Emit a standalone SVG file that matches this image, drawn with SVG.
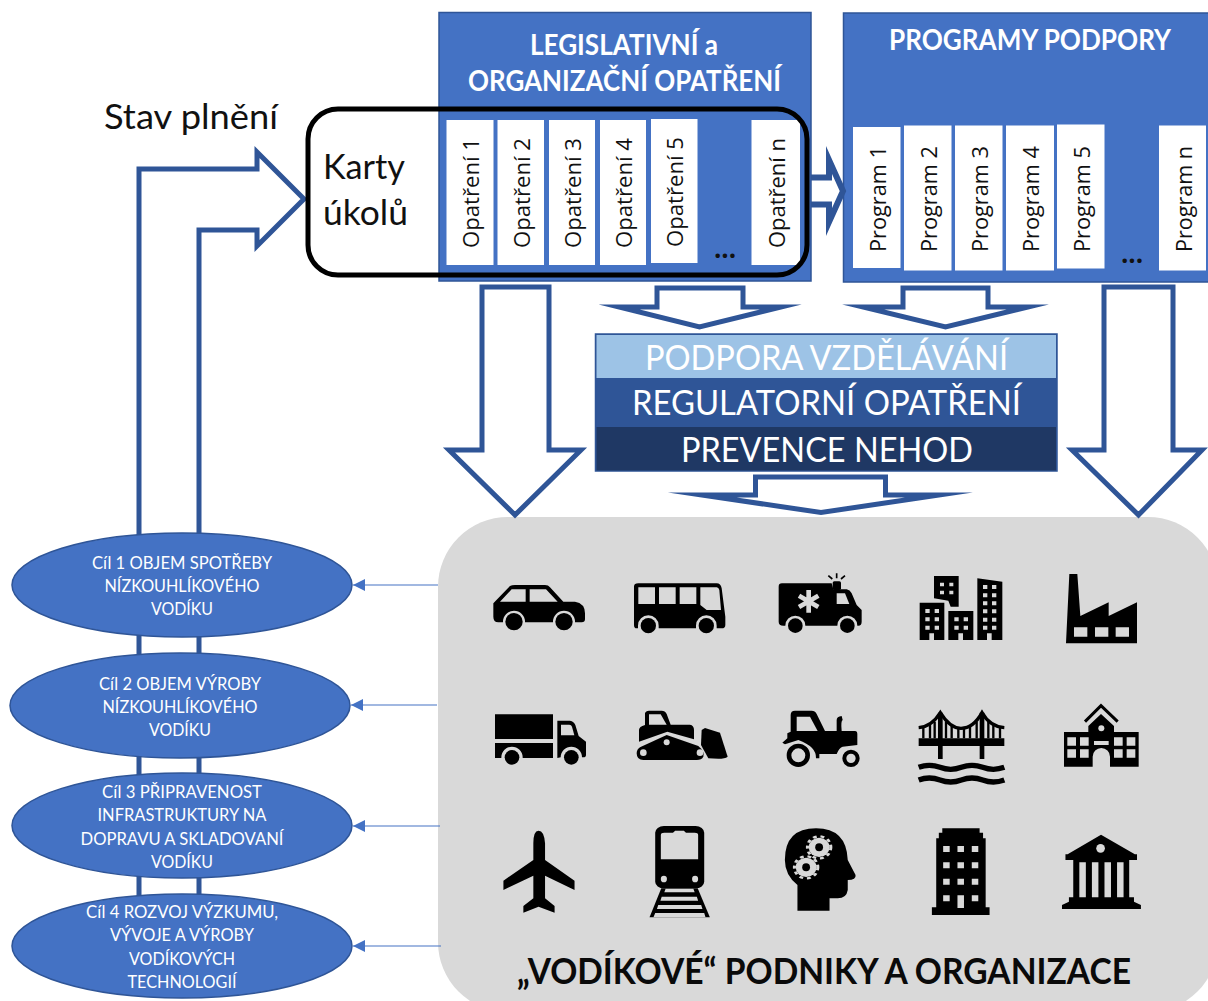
<svg xmlns="http://www.w3.org/2000/svg" width="1208" height="1001" viewBox="0 0 1208 1001">
<style>
text{font-family:"Lato","Liberation Sans",sans-serif;}
.box{fill:#4472C4;stroke:#2F5597;stroke-width:1.5}
.card{fill:#fff}
.rot{font-family:"Open Sans","Noto Sans",sans-serif;font-size:22.5px;fill:#111}
.title{font-weight:700;font-size:28px;fill:#fff;text-anchor:middle}
.band{font-size:35px;fill:#fff;text-anchor:middle}
.ell{fill:#4472C4;stroke:#2F5597;stroke-width:1.5}
.et{font-size:17px;fill:#fff;text-anchor:middle}
.arrow{fill:#fff;stroke:#2F5597;stroke-width:5;stroke-linejoin:miter;stroke-miterlimit:40}
.thin{stroke:#4472C4;stroke-width:1.2;fill:none;marker-end:url(#ah)}
.big{font-size:35px;fill:#111}
.dots{font-family:"Open Sans",sans-serif;font-size:26px;font-weight:700;fill:#111;text-anchor:middle}
.i{fill:#000}
.g{fill:#D9D9D9}
</style>
<defs>
<marker id="ah" markerUnits="userSpaceOnUse" markerWidth="13" markerHeight="13" refX="12" refY="6.500" orient="auto"><path d="M0 0.500L12 6.500L0 12.500Z" fill="#4472C4"/></marker>
</defs>
<rect width="1208" height="1001" fill="#fff"/>

<g id="organizace">
<rect x="438" y="517" width="780" height="495" rx="70" fill="#D9D9D9"/>
<text x="517" y="984" font-weight="700" font-size="36" fill="#0a0a0a" textLength="614" lengthAdjust="spacingAndGlyphs">„VODÍKOVÉ“ PODNIKY A ORGANIZACE</text>
</g>

<g id="programy">
<rect class="box" x="843.500" y="13" width="370" height="269"/>
<text class="title" x="1030" y="50" textLength="282" lengthAdjust="spacingAndGlyphs">PROGRAMY PODPORY</text>
<rect class="card" x="853" y="127" width="47.500" height="141"/>
<rect class="card" x="904" y="125.500" width="47.500" height="145"/>
<rect class="card" x="955" y="125.500" width="47.500" height="145"/>
<rect class="card" x="1006" y="125.500" width="48" height="145"/>
<rect class="card" x="1057" y="124.500" width="47.500" height="144"/>
<rect class="card" x="1159" y="125.500" width="47" height="145"/>
<text class="rot" transform="translate(885.500 252) rotate(-90)" textLength="106" lengthAdjust="spacingAndGlyphs">Program 1</text>
<text class="rot" transform="translate(937 252) rotate(-90)" textLength="106" lengthAdjust="spacingAndGlyphs">Program 2</text>
<text class="rot" transform="translate(988 252) rotate(-90)" textLength="106" lengthAdjust="spacingAndGlyphs">Program 3</text>
<text class="rot" transform="translate(1038.500 252) rotate(-90)" textLength="106" lengthAdjust="spacingAndGlyphs">Program 4</text>
<text class="rot" transform="translate(1090 252) rotate(-90)" textLength="106" lengthAdjust="spacingAndGlyphs">Program 5</text>
<text class="rot" transform="translate(1192 252) rotate(-90)" textLength="106" lengthAdjust="spacingAndGlyphs">Program n</text>
<text class="dots" x="1132" y="263">...</text>
</g>

<g id="connectors">
<path class="arrow" d="M139 905V169H257V152L304 199L257 246V230H199V905"/>
<path class="arrow" style="stroke-width:6" d="M811 177.500H829V160L843 191L829 222V204.500H811"/>
<path class="arrow" d="M482 287H549V450H581L515 515L449 450H482Z"/>
<path class="arrow" d="M1104 287H1173V450H1202L1138.500 515L1072 450H1104Z"/>
<path class="arrow" d="M657 288H743V307H781L699.500 327L619 307H657Z"/>
<path class="arrow" d="M903 288H988V307H1028L945.500 327L863 307H903Z"/>
<path class="arrow" d="M755.500 477H885.500V495H939L821 512.500L702 495H755.500Z"/>
<path class="thin" d="M438 585H353"/>
<path class="thin" d="M437 705H351"/>
<path class="thin" d="M440 826H353"/>
<path class="thin" d="M441 946H353"/>
</g>

<g id="legislativni">
<rect class="box" x="439" y="12.500" width="372" height="268.500"/>
<text class="title" x="624" y="55" textLength="188" lengthAdjust="spacingAndGlyphs">LEGISLATIVNÍ a</text>
<text class="title" x="624.500" y="91" textLength="313" lengthAdjust="spacingAndGlyphs">ORGANIZAČNÍ OPATŘENÍ</text>
<rect class="card" x="446.500" y="120" width="47" height="145"/>
<rect class="card" x="497.500" y="120" width="46.500" height="145"/>
<rect class="card" x="549" y="120" width="46" height="145"/>
<rect class="card" x="600" y="120" width="46" height="145"/>
<rect class="card" x="651" y="119" width="46.500" height="144"/>
<rect class="card" x="751.500" y="120" width="48.500" height="145"/>
<text class="rot" transform="translate(479 248) rotate(-90)" textLength="110" lengthAdjust="spacingAndGlyphs">Opatření 1</text>
<text class="rot" transform="translate(530 248) rotate(-90)" textLength="110" lengthAdjust="spacingAndGlyphs">Opatření 2</text>
<text class="rot" transform="translate(581 248) rotate(-90)" textLength="110" lengthAdjust="spacingAndGlyphs">Opatření 3</text>
<text class="rot" transform="translate(632 248) rotate(-90)" textLength="110" lengthAdjust="spacingAndGlyphs">Opatření 4</text>
<text class="rot" transform="translate(682.500 247) rotate(-90)" textLength="110" lengthAdjust="spacingAndGlyphs">Opatření 5</text>
<text class="rot" transform="translate(785 248) rotate(-90)" textLength="110" lengthAdjust="spacingAndGlyphs">Opatření n</text>
<text class="dots" x="725" y="258">...</text>
</g>

<g id="karty">
<rect x="308" y="109" width="499" height="166" rx="30" fill="none" stroke="#000" stroke-width="5"/>
<text class="big" x="323" y="179" textLength="82" lengthAdjust="spacingAndGlyphs">Karty</text>
<text class="big" x="323" y="225" textLength="85" lengthAdjust="spacingAndGlyphs">úkolů</text>
</g>

<g id="stav">
<text class="big" x="104" y="129" font-size="34" textLength="174" lengthAdjust="spacingAndGlyphs">Stav plnění</text>
</g>

<g id="pasy">
<rect x="595.500" y="334" width="461.500" height="137" fill="#2F5597" stroke="#2F5597" stroke-width="1.5"/>
<rect x="596.500" y="335" width="459.500" height="43" fill="#9DC3E6"/>
<rect x="596.500" y="378" width="459.500" height="49" fill="#2F5597"/>
<rect x="596.500" y="427" width="459.500" height="43.500" fill="#1F3864"/>
<text class="band" x="826.500" y="370" textLength="363" lengthAdjust="spacingAndGlyphs">PODPORA VZDĚLÁVÁNÍ</text>
<text class="band" x="826.500" y="415" textLength="389" lengthAdjust="spacingAndGlyphs">REGULATORNÍ OPATŘENÍ</text>
<text class="band" x="827" y="462" textLength="292" lengthAdjust="spacingAndGlyphs">PREVENCE NEHOD</text>
</g>

<g id="cil1">
<ellipse class="ell" cx="182" cy="585" rx="170" ry="52"/>
<text class="et" x="182" y="569" textLength="180" lengthAdjust="spacingAndGlyphs">Cíl 1 OBJEM SPOTŘEBY</text>
<text class="et" x="182" y="592" textLength="155" lengthAdjust="spacingAndGlyphs">NÍZKOUHLÍKOVÉHO</text>
<text class="et" x="182" y="615" textLength="62" lengthAdjust="spacingAndGlyphs">VODÍKU</text>
</g>
<g id="cil2">
<ellipse class="ell" cx="180" cy="705.500" rx="170" ry="52.500"/>
<text class="et" x="180" y="690" textLength="162" lengthAdjust="spacingAndGlyphs">Cíl 2 OBJEM VÝROBY</text>
<text class="et" x="180" y="713" textLength="155" lengthAdjust="spacingAndGlyphs">NÍZKOUHLÍKOVÉHO</text>
<text class="et" x="180" y="736" textLength="62" lengthAdjust="spacingAndGlyphs">VODÍKU</text>
</g>
<g id="cil3">
<ellipse class="ell" cx="182" cy="825.500" rx="170" ry="52.500"/>
<text class="et" x="182" y="798" textLength="160" lengthAdjust="spacingAndGlyphs">Cíl 3 PŘIPRAVENOST</text>
<text class="et" x="182" y="821" textLength="169" lengthAdjust="spacingAndGlyphs">INFRASTRUKTURY NA</text>
<text class="et" x="182" y="845" textLength="203" lengthAdjust="spacingAndGlyphs">DOPRAVU A SKLADOVANÍ</text>
<text class="et" x="182" y="868" textLength="62" lengthAdjust="spacingAndGlyphs">VODÍKU</text>
</g>
<g id="cil4">
<ellipse class="ell" cx="182" cy="946" rx="170" ry="52"/>
<text class="et" x="182" y="918" textLength="192" lengthAdjust="spacingAndGlyphs">Cíl 4 ROZVOJ VÝZKUMU,</text>
<text class="et" x="182" y="941" textLength="144" lengthAdjust="spacingAndGlyphs">VÝVOJE A VÝROBY</text>
<text class="et" x="182" y="965" textLength="106" lengthAdjust="spacingAndGlyphs">VODÍKOVÝCH</text>
<text class="et" x="182" y="988" textLength="109" lengthAdjust="spacingAndGlyphs">TECHNOLOGIÍ</text>
</g>

<g id="ikony-a" transform="translate(470 560) scale(.33333)">
<g id="auto">
<path class="i" d="M70 130L120 78Q125 75 135 75H225Q235 75 240 82L280 125H315Q345 130 345 160V178Q345 187 335 187H315V185A33 33 0 0 0 249 185V187H165V185A33 33 0 0 0 99 185V187H85Q70 187 70 170Z"/>
<path class="g" d="M90 125L125 88H167V125ZM179 88H228L263 125H179Z"/>
<circle class="i" cx="132" cy="185" r="26"/><circle class="i" cx="282" cy="185" r="26"/>
</g>
<g id="autobus">
<path class="i" d="M492 80Q492 70 505 70H740Q752 70 755 85L766 170V195Q766 205 755 205H740V197A31 31 0 0 0 678 197V205H566V197A31 31 0 0 0 504 197V205H500Q492 205 492 195Z"/>
<path class="g" d="M505 82h50v50h-50zM567 82h50v50h-50zM629 82h50v50h-50zM691 82H740Q746 82 748 90L753 150H710L691 135Z"/>
<circle class="i" cx="535" cy="197" r="23"/><circle class="i" cx="709" cy="197" r="23"/>
</g>
<g id="sanitka">
<path class="i" d="M926 80Q926 70 936 70H1085L1090 88H1130Q1140 90 1145 100L1160 135L1175 150V185Q1175 197 1165 197H1162A30 30 0 0 0 1102 197H1006A30 30 0 0 0 946 197H940Q926 197 926 185Z"/>
<rect class="i" x="1088" y="64" width="25" height="26" rx="5"/>
<path d="M1100 40V55M1075 47L1087 57M1125 47L1113 57" stroke="#000" stroke-width="5"/>
<path class="g" d="M1100 100H1125L1138 132H1100Z"/>
<path d="M1016 90V158M987 107L1045 141M987 141L1045 107" stroke="#D9D9D9" stroke-width="14"/>
<circle class="i" cx="976" cy="197" r="22"/><circle class="i" cx="1132" cy="197" r="22"/>
</g>
<g id="nakladak">
<path class="i" d="M75 463H249V537H75ZM75 549H249V594H158V592A32 32 0 0 0 94 592V594H75ZM262 482H300Q312 484 316 495L326 528L348 545V585Q348 592 340 592H336A32 32 0 0 0 272 592L262 594Z"/>
<path class="g" d="M273 494H298Q304 494 306 500L313 526H273Z"/>
<circle class="i" cx="126" cy="592" r="22"/><circle class="i" cx="304" cy="592" r="22"/>
</g>
<g id="buldozer">
<path class="i" d="M525 460Q527 452 537 452H575Q585 452 590 462L602 494H660Q672 496 672 510V538L592 515L507 545V510Q507 500 525 495Z"/>
<path class="g" d="M537 463H572L590 494H537Z"/>
<path class="i" d="M500 580Q500 568 510 562L590 525L685 558Q705 575 700 590Q695 600 680 600H520Q500 600 500 580Z"/>
<circle class="g" cx="520" cy="578" r="10"/><circle class="g" cx="590" cy="547" r="9"/><circle class="g" cx="690" cy="578" r="10"/>
<path class="i" d="M695 510L705 504L750 518L773 590Q765 596 745 596L715 595L693 555Z"/>
</g>
<g id="traktor">
<path class="i" d="M962 515V465Q962 452 975 452H1025Q1035 452 1040 462L1065 513H1100V480Q1100 470 1115 468L1118 480Q1112 482 1115 513H1155Q1162 513 1162 522V555L1118 560Q1108 562 1100 582H1048V595H1038Q1040 560 985 540L945 553L937 548L952 535V520Z"/>
<path class="g" d="M980 470H1020L1043 513H980Z"/>
<circle cx="985" cy="586" r="28" fill="#D9D9D9" stroke="#000" stroke-width="14"/>
<circle cx="1143" cy="595" r="20" fill="#D9D9D9" stroke="#000" stroke-width="12"/>
</g>
</g>

<g id="ikony-b" transform="translate(860 560) scale(.33333)">
<g id="mesto">
<path class="i" d="M222 48H296V140H272L265 122L222 115ZM179 128H253V240H222V220H208V240H179ZM265 153H340V240H309V220H295V240H265ZM352 55L427 65V240H395V220H381V240H352Z"/>
<path class="g" d="M240 68h12v11h-12zM268 68h12v11h-12zM240 92h12v11h-12zM268 92h12v11h-12zM196 147h13v12h-13zM224 147h13v12h-13zM196 172h13v12h-13zM224 172h13v12h-13zM196 197h13v12h-13zM224 197h13v12h-13zM283 172h13v12h-13zM311 172h13v12h-13zM283 197h13v12h-13zM311 197h13v12h-13zM369 75h13v12h-13zM396 75h13v12h-13zM369 100h13v12h-13zM396 100h13v12h-13zM369 124h13v12h-13zM396 124h13v12h-13zM369 148h13v12h-13zM396 148h13v12h-13zM369 173h13v12h-13zM396 173h13v12h-13zM369 197h13v12h-13zM396 197h13v12h-13z"/>
</g>
<g id="tovarna">
<path class="i" d="M628 42H652L661 168L746 127V168L831 127V250H618Z"/>
<path class="g" d="M642 202h40v28h-40zM705 202h40v28h-40zM767 202h40v28h-40z"/>
</g>
<g id="most">
<path d="M176 503Q215 500 241 458Q270 505 303 505Q340 505 366 458Q390 500 433 503" fill="none" stroke="#000" stroke-width="10"/>
<path d="M190 500V535M210 495V535M224 485V535M258 485V535M275 497V535M295 505V535M312 505V535M330 497V535M350 485V535M385 485V535M400 495V535M420 500V535" stroke="#000" stroke-width="7"/>
<path class="i" d="M234 458h14v139h-14zM359 458h14v139h-14zM176 535h257v23h-257z"/>
<path d="M176 622q32-12 64 0t64 0t64 0t65 0M176 660q32-12 64 0t64 0t64 0t65 0" fill="none" stroke="#000" stroke-width="16"/>
</g>
<g id="skola">
<path d="M675 485L723 437L773 485" fill="none" stroke="#000" stroke-width="9"/>
<path class="i" d="M612 516H685V498L723 462L762 498V516H836V620H750V590A26 26 0 0 0 698 590V620H612Z"/>
<circle class="g" cx="724" cy="505" r="9"/>
<path class="g" d="M702 543h44v12h-44zM622 532h26v25h-26zM660 532h26v25h-26zM622 568h26v25h-26zM660 568h26v25h-26zM762 532h26v25h-26zM800 532h26v25h-26zM762 568h26v25h-26zM800 568h26v25h-26z"/>
</g>
</g>

<g id="ikony-c" transform="translate(480 810) scale(.43367 .33333)">
<g id="letadlo">
<path class="i" d="M135 62Q148 62 150 100V150L218 212V240L150 197V265L172 288V308L135 290L100 308V288L123 265V197L54 240V212L123 150V100Q123 62 135 62Z"/>
</g>
<g id="vlak">
<path class="i" d="M418 235H502L530 322H391Z"/>
<path class="g" d="M428 236H492L495 247H425ZM419 260H500L503 272H416ZM411 285H510L513 297H408ZM404 309H517L520 322H400Z"/>
<rect class="i" x="404" y="48" width="113" height="187" rx="20"/>
<path class="g" d="M417 75Q417 68 425 68H445L450 62H470L475 68H495Q503 68 503 75V148H417Z"/>
<ellipse class="g" cx="424" cy="207" rx="7" ry="10"/><ellipse class="g" cx="496" cy="207" rx="7" ry="10"/>
</g>
<g id="hlava">
<path class="i" d="M732 302V225Q703 195 703 150Q703 55 775 55Q845 55 848 150L866 195Q868 210 848 210V240Q845 265 825 265H806V302Z"/>
<ellipse class="g" cx="782" cy="112" rx="24" ry="29"/>
<ellipse cx="782" cy="112" rx="27" ry="33" fill="none" stroke="#D9D9D9" stroke-width="7" stroke-dasharray="9 9"/>
<ellipse class="i" cx="782" cy="112" rx="9" ry="12"/>
<ellipse class="g" cx="752" cy="172" rx="24" ry="29"/>
<ellipse cx="752" cy="172" rx="27" ry="33" fill="none" stroke="#D9D9D9" stroke-width="7" stroke-dasharray="9 9"/>
<ellipse class="i" cx="752" cy="172" rx="9" ry="12"/>
</g>
<g id="budova">
<path class="i" d="M1066 55H1152V68H1160V85H1166V292H1175V315H1042V292H1052V85H1058V68H1066Z"/>
<path class="g" d="M1068 108h15v18h-15zM1101 108h15v18h-15zM1134 108h15v18h-15zM1068 157h15v18h-15zM1101 157h15v18h-15zM1134 157h15v18h-15zM1068 206h15v18h-15zM1101 206h15v18h-15zM1134 206h15v18h-15zM1068 256h15v18h-15zM1101 256h15v38h-15zM1134 256h15v18h-15z"/>
</g>
<g id="instituce">
<path class="i" d="M1432 74L1510 133H1515V150H1350V133H1355ZM1368 150H1497V262H1508V275L1524 285V297H1342V285L1358 275V262H1368Z"/>
<ellipse class="g" cx="1431" cy="115" rx="10" ry="13"/>
<path class="g" d="M1382 157h15v105h-15zM1411 157h15v105h-15zM1440 157h15v105h-15zM1469 157h15v105h-15z"/>
</g>
</g>
</svg>
